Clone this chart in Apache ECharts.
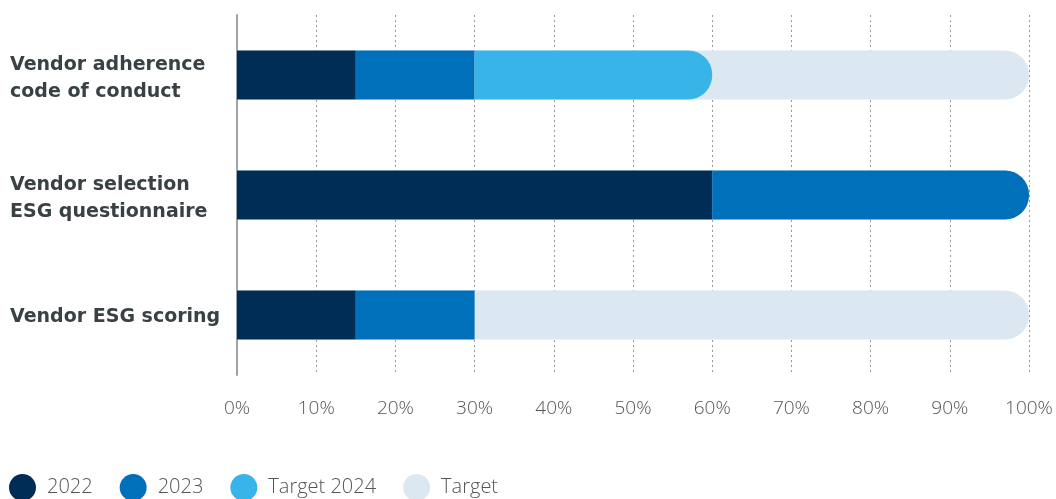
<!DOCTYPE html>
<html><head><meta charset="utf-8">
<script src="https://cdn.jsdelivr.net/npm/echarts@6/dist/echarts.min.js"></script>
<style>html,body{margin:0;padding:0;background:#fff}#c{width:1056px;height:499px}</style>
</head><body><div id="c"></div>
<script>
const categories = ['Vendor adherence\ncode of conduct', 'Vendor selection\nESG questionnaire', 'Vendor ESG scoring'];
const s2022 = [15, 60, 15];
const s2023 = [15, 40, 15];
const sTarget2024 = [30, 0, 0];
const sTarget = [100, 100, 100];
const xTicks = [0, 10, 20, 30, 40, 50, 60, 70, 80, 90, 100];

const colors = { '2022': '#002d56', '2023': '#0070bb', 'Target 2024': '#38b5e8', 'Target': '#dce8f1' };
const R = 24;
function lastIdx(i) {
  if (sTarget2024[i] > 0) return 2;
  if (s2023[i] > 0) return 1;
  return 0;
}
function mk(arr, k) {
  return arr.map((v, i) => {
    const isLast = lastIdx(i) === k && (s2022[i] + s2023[i] + sTarget2024[i]) >= 59;
    return { value: v === 0 ? '-' : v, itemStyle: { borderRadius: isLast ? [0, R, R, 0] : 0 } };
  });
}
const labStyle = { fontSize: 19, fontWeight: 700, color: '#3a4144', lineHeight: 27, fontFamily: 'DejaVu Sans' };
const chart = echarts.init(document.getElementById('c'), null, { renderer: 'canvas' });
chart.setOption({
  animation: false,
  textStyle: { fontFamily: 'Open Sans' },
  grid: { left: 237, right: 27, top: 15, bottom: 124, containLabel: false },
  legend: {
    left: 9, top: 474, padding: 0, itemWidth: 27, itemHeight: 27, itemGap: 27, icon: 'circle',
    textStyle: { fontSize: 20, color: '#555', fontFamily: 'Open Sans', fontWeight: 300, padding: [3, 0, 0, 6] },
    data: ['2022', '2023', 'Target 2024', 'Target']
  },
  xAxis: {
    type: 'value', min: 0, max: 100, interval: 10,
    axisLine: { show: false }, axisTick: { show: false },
    splitLine: { show: true, lineStyle: { type: [2, 3], color: '#9a9a9a', width: 1 } },
    axisLabel: { formatter: v => xTicks.includes(v) ? v + '%' : '', margin: 24, fontSize: 19, color: '#555', fontWeight: 300, fontFamily: 'Open Sans' }
  },
  yAxis: {
    type: 'category', inverse: true, data: categories,
    axisLine: { show: true, lineStyle: { color: '#9ea3a8', width: 2 } },
    axisTick: { show: false },
    axisLabel: {
      align: 'left', margin: 227, ...labStyle,
      formatter: v => {
        const lines = v.split('\n');
        const sp = lines.length > 1 ? '{s8|}' : '{s4|}';
        return sp + '\n' + lines.map(l => '{a|' + l + '}').join('\n');
      },
      rich: {
        a: { ...labStyle, align: 'left' },
        s8: { height: 8, lineHeight: 8, fontSize: 1 },
        s4: { height: 4, lineHeight: 4, fontSize: 1 }
      }
    }
  },
  series: [
    { name: 'Target', type: 'bar', barWidth: 49, barGap: '-100%', z: 1, color: colors['Target'],
      data: sTarget.map(v => ({ value: v, itemStyle: { borderRadius: [0, R, R, 0] } })) },
    { name: '2022', type: 'bar', stack: 'a', barWidth: 49, z: 2, color: colors['2022'], data: mk(s2022, 0) },
    { name: '2023', type: 'bar', stack: 'a', barWidth: 49, z: 2, color: colors['2023'], data: mk(s2023, 1) },
    { name: 'Target 2024', type: 'bar', stack: 'a', barWidth: 49, z: 2, color: colors['Target 2024'], data: mk(sTarget2024, 2) }
  ]
});
</script></body></html>
